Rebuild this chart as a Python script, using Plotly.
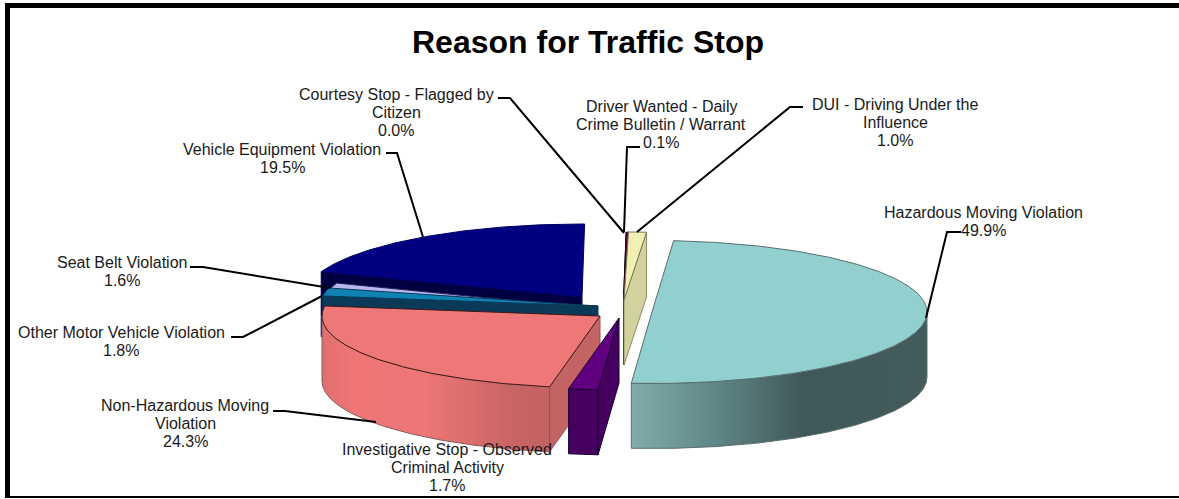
import math
import plotly.graph_objects as go

# ---------- data ----------
categories = ["Hazardous Moving Violation", "Investigative Stop - Observed Criminal Activity",
              "Non-Hazardous Moving Violation", "Other Motor Vehicle Violation",
              "Seat Belt Violation", "Vehicle Equipment Violation",
              "Courtesy Stop - Flagged by Citizen",
              "Driver Wanted - Daily Crime Bulletin / Warrant",
              "DUI - Driving Under the Influence"]
values = [49.9, 1.7, 24.3, 1.8, 1.6, 19.5, 0.0, 0.1, 1.0]
title_text = "Reason for Traffic Stop"

# ---------- styling / layout (not data) ----------
first_angle = 4.5
top_colors = ["#92CFCF", "#600080", "#EE7777", "#0F82B4", "#B6B6EE", "#000080", "#000000", "#800040", "#F1F0B2"]
wall_colors = [None, "#46005F", None, "#0B3A58", "#1E1E55", "#000040", "#000000", "#500028", "#D3D29E"]
outline = ["#5A6E6E", "#1A0030", "#401818", "#0B3A58", "#1E1E55", "#000060", "#000000", "#500028", "#77775A"]
wall_outline = ["#5A6E6E", "#1A0030", "#8A5A5A", "#0B3A58", "#1E1E55", "#000060", "#000000", "#500028", "#8E8E6A"]
outline_w = [1, 1, 1, 1, 1, 1, 2, 1, 1]
gradients = {0: [[0, "#80ACAB"], [0.3, "#5E8484"], [0.58, "#405858"], [1, "#435B5B"]],
             2: [[0, "#E06E6E"], [0.15, "#F07676"], [0.45, "#EE7676"], [0.85, "#C76464"], [1, "#C46363"]]}
# centre x, centre y, x radius, y radius per exploded slice
geom = [(652, 312, 275, 71.5), (619, 318, 278, 72), (600, 316, 278, 72), (598, 306, 278, 72),
        (590, 308, 270, 72), (582, 297, 278, 73), (624, 300, 287, 68), (624, 300, 287, 68),
        (624, 300, 287, 68)]
depth = 65
radial_edge = [None, "start", "start", "start", "start", "start", "end", "end", "end"]
draw_order = [5, 4, 3, 2, 6, 7, 8, 1, 0]

label_layout = {
    0: (983, 212, ["Hazardous Moving Violation"]),
    1: (447, 449, ["Investigative Stop - Observed", "Criminal Activity"]),
    2: (185, 405, ["Non-Hazardous Moving", "Violation"]),
    3: (121, 332, ["Other Motor Vehicle Violation"]),
    4: (122, 262, ["Seat Belt Violation"]),
    5: (282, 149, ["Vehicle Equipment Violation"]),
    6: (396, 94, ["Courtesy Stop - Flagged by", "Citizen"]),
    7: (661, 106, ["Driver Wanted - Daily", "Crime Bulletin / Warrant"]),
    8: (895, 104, ["DUI - Driving Under the", "Influence"]),
}
leaders = {
    0: [(961, 232), (947, 232), (926, 318)],
    1: [],
    2: [(273, 411), (285, 411), (376, 422)],
    3: [(231, 337), (243, 337), (322, 296)],
    4: [(190, 267), (203, 267), (330, 288)],
    5: [(386, 153), (397, 153), (423, 237)],
    6: [(498, 98), (510, 98), (624, 233)],
    7: [(640, 147), (627, 147), (624, 232)],
    8: [(803, 107), (790, 107), (637, 232)],
}
line_h = 18


def pt(g, th):
    cx, cy, a, b = g
    t = math.radians(th)
    return cx + a * math.sin(t), cy - b * math.cos(t)


def poly(pts, fill, line, lw, grad=None, name=""):
    xs = [p[0] for p in pts] + [pts[0][0]]
    ys = [p[1] for p in pts] + [pts[0][1]]
    kw = dict(fillgradient=dict(type="horizontal", colorscale=grad)) if grad else dict(fillcolor=fill)
    return go.Scatter(x=xs, y=ys, mode="lines", fill="toself", line=dict(color=line, width=lw),
                      hoverinfo="text", text=name, showlegend=False, **kw)


# angles from the values
angles = []
acc = first_angle
total = sum(values)
for v in values:
    angles.append((acc, acc + v / total * 360))
    acc += v / total * 360

fig = go.Figure()
for i in draw_order:
    g = geom[i]
    a0, a1 = angles[i]
    name = f"{categories[i]}: {values[i]:.1f}%"
    n = max(2, int((a1 - a0) * 1.5))
    arc = [a0 + (a1 - a0) * k / n for k in range(n + 1)]
    apex = (g[0], g[1])
    # outer wall: the part of the rim that faces the viewer
    front = [t for t in arc if 90 <= t % 360 <= 270]
    if len(front) > 1:
        rim = [pt(g, t) for t in front]
        wall = rim + [(x, y + depth) for x, y in reversed(rim)]
        fig.add_trace(poly(wall, wall_colors[i], wall_outline[i], outline_w[i], gradients.get(i), name))
    # radial wall
    if radial_edge[i]:
        r = pt(g, a0 if radial_edge[i] == "start" else a1)
        fig.add_trace(poly([apex, r, (r[0], r[1] + depth), (apex[0], apex[1] + depth)],
                           wall_colors[i] or "#C46363", wall_outline[i], outline_w[i], None, name))
    # top face
    fig.add_trace(poly([apex] + [pt(g, t) for t in arc], top_colors[i], outline[i], outline_w[i], None, name))

# leader lines
for i, pts in leaders.items():
    if pts:
        fig.add_trace(go.Scatter(x=[p[0] for p in pts], y=[p[1] for p in pts], mode="lines",
                                 line=dict(color="black", width=2), hoverinfo="skip", showlegend=False))

annotations = []
for i, (cx, y0, lines) in label_layout.items():
    all_lines = lines + [f"{values[i]:.1f}%"]
    for k, s in enumerate(all_lines):
        annotations.append(dict(x=cx, y=y0 + k * line_h, text=s, showarrow=False, xref="x", yref="y",
                                xanchor="center", yanchor="middle",
                                font=dict(family="Liberation Sans", size=16, color="#1A1A1A")))
annotations.append(dict(x=588, y=42, text=f"<b>{title_text}</b>", showarrow=False, xref="x", yref="y",
                        xanchor="center", yanchor="middle",
                        font=dict(family="Liberation Sans", size=32, color="black")))

frame = [dict(type="line", x0=7.5, x1=7.5, y0=3, y1=498, line=dict(color="black", width=5)),
         dict(type="line", x0=5, x1=1179, y0=5.5, y1=5.5, line=dict(color="black", width=5)),
         dict(type="line", x0=5, x1=1179, y0=497, y1=497, line=dict(color="black", width=2))]

fig.update_layout(width=1179, height=499, margin=dict(l=0, r=0, t=0, b=0),
                  paper_bgcolor="white", plot_bgcolor="white", showlegend=False,
                  xaxis=dict(range=[0, 1179], visible=False, fixedrange=True),
                  yaxis=dict(range=[499, 0], visible=False, fixedrange=True),
                  annotations=annotations, shapes=frame)
fig.write_html("out.html", config=dict(displayModeBar=False),
               post_script="document.body.style.margin='0';document.documentElement.style.overflow='hidden';")
